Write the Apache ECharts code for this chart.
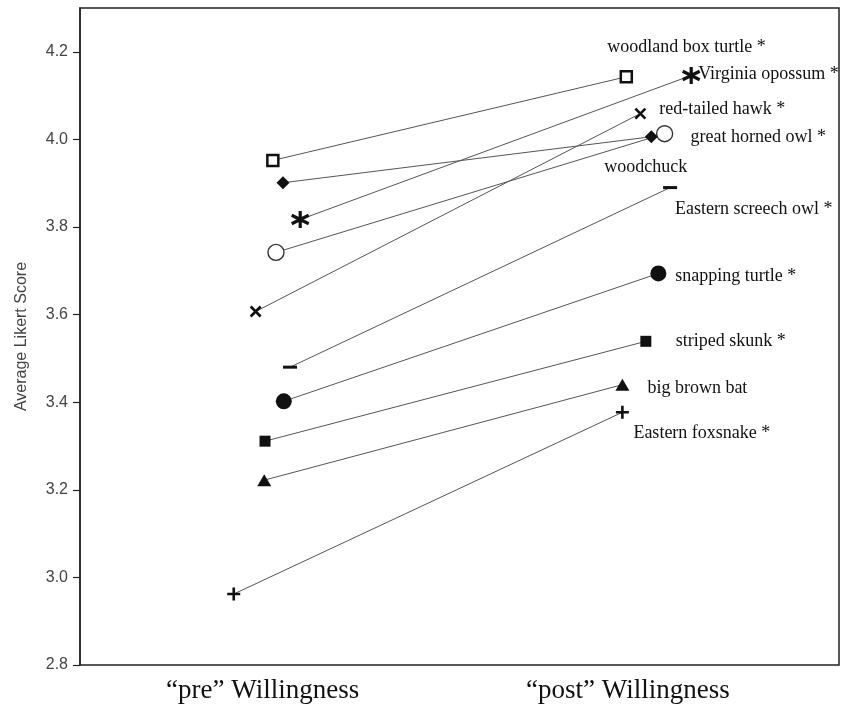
<!DOCTYPE html>
<html>
<head>
<meta charset="utf-8">
<script src="https://cdn.jsdelivr.net/npm/echarts@6/dist/echarts.min.js"></script>
<style>html,body{margin:0;padding:0;background:#fff;}#c{width:849px;height:712px;}</style>
</head>
<body>
<div id="c"></div>
<script>
// ---- data ----
const species = ["woodland box turtle *","Virginia opossum *","red-tailed hawk *","great horned owl *","woodchuck","Eastern screech owl *","snapping turtle *","striped skunk *","big brown bat","Eastern foxsnake *"];
const preScore  = [3.952, 3.817, 3.607, 3.742, 3.901, 3.480, 3.402, 3.311, 3.222, 2.962];
const postScore = [4.143, 4.146, 4.059, 4.013, 4.006, 3.890, 3.694, 3.539, 3.440, 3.377];
// horizontal jitter of each marker
const preJitter  = [27.6, 31.1, 25.4, 28.0, 28.9, 29.8, 29.0, 26.6, 26.5, 22.6];
const postJitter = [72.8, 81.1, 74.6, 77.7, 76.0, 78.4, 76.9, 75.3, 72.3, 72.3];
const groupLabels = ["\u201cpre\u201d Willingness", "\u201cpost\u201d Willingness"];
const groupPos = [26.3, 73.0];
const yTicks = [2.8, 3.0, 3.2, 3.4, 3.6, 3.8, 4.0, 4.2];

// ---- styles ----
const openFill = {color:'#fff', borderColor:'#111', borderWidth:2.5};
const solid = {color:'#111', borderWidth:0};
const stroke = {color:'#111', borderColor:'#111', borderWidth:2.6};
const markerStyle = [
  {symbol:'rect', size:11, item:openFill},
  {symbol:'path://M10,0L10,20M1.34,5L18.66,15M1.34,15L18.66,5', size:17, item:{color:'#111', borderColor:'#111', borderWidth:3.2}},
  {symbol:'path://M0,0L10,10M10,0L0,10', size:10, item:stroke},
  {symbol:'circle', size:16, item:{color:'#fff', borderColor:'#333', borderWidth:1.4}},
  {symbol:'diamond', size:13, item:solid},
  {symbol:'rect', size:[14,3], item:solid},
  {symbol:'circle', size:16, item:solid},
  {symbol:'rect', size:11, item:solid},
  {symbol:'triangle', size:[14,12], item:solid},
  {symbol:'path://M5,0L5,10M0,5L10,5', size:13, item:{color:'#111', borderColor:'#111', borderWidth:2.6}}
];
const labelOffset = [[-19,-30],[7,-1],[19,-4],[26,4],[-47,30],[5,22],[17,3],[30,0],[25,4],[11,21]];
const sans = '"Liberation Sans", Arial, sans-serif';
const serif = '"Liberation Serif", "Times New Roman", serif';

const series = species.map((name,i)=>({
  type:'line',
  name:name,
  silent:true,
  symbol:markerStyle[i].symbol,
  symbolSize:markerStyle[i].size,
  itemStyle:markerStyle[i].item,
  lineStyle:{color:'#555', width:1},
  z: 3,
  data:[
    {value:[preJitter[i], preScore[i]]},
    {value:[postJitter[i], postScore[i]], label:{
      show:true, formatter:name, position:'inside', align:'left', verticalAlign:'middle',
      offset:labelOffset[i], color:'#111', fontFamily:serif, fontSize:18
    }}
  ]
}));

const chart = echarts.init(document.getElementById('c'), null, {renderer:'canvas'});
chart.setOption({
  animation:false,
  backgroundColor:'#fff',
  grid:{left:80, top:8, width:759, height:657, outerBoundsMode:'none', containLabel:false, show:true, borderColor:'#222', borderWidth:1.5, backgroundColor:'transparent'},
  xAxis:{
    type:'value', min:2.94, max:100,
    axisLine:{show:false}, splitLine:{show:false},
    axisTick:{show:false},
    axisLabel:{
      customValues:groupPos,
      formatter:(v)=>{const k=groupPos.indexOf(v); return k>=0?groupLabels[k]:'';},
      color:'#111', fontFamily:serif, fontSize:27, margin:12
    }
  },
  yAxis:{
    type:'value', min:2.8, max:4.3, interval:0.2,
    name:'Average Likert Score', nameLocation:'middle', nameGap:50, nameMoveOverlap:false,
    nameTextStyle:{color:'#444', fontFamily:sans, fontSize:16},
    axisLine:{show:true, lineStyle:{color:'#222', width:1.5}},
    axisTick:{show:true, length:7, lineStyle:{color:'#222', width:1.2}, customValues:yTicks},
    axisLabel:{customValues:yTicks, formatter:(v)=>v.toFixed(1), color:'#444', fontFamily:sans, fontSize:16, margin:12},
    splitLine:{show:false}
  },
  series:series
});
</script>
</body>
</html>
